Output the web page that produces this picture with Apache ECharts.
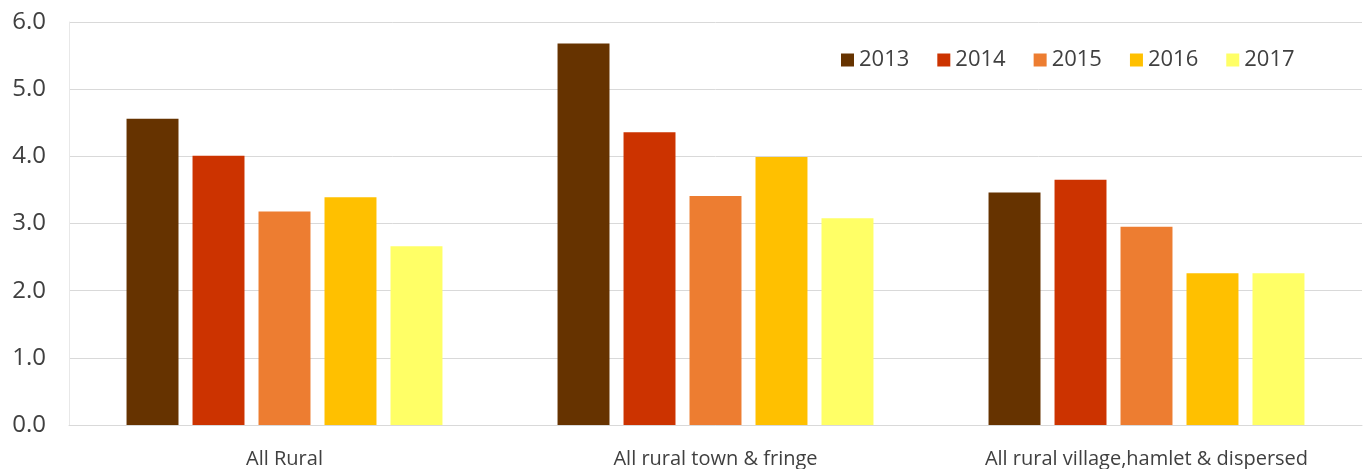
<!DOCTYPE html>
<html>
<head>
<meta charset="utf-8">
<script src="https://cdn.jsdelivr.net/npm/echarts@6/dist/echarts.min.js"></script>
<style>
html,body{margin:0;padding:0;background:#fff;}
#chart{width:1370px;height:469px;}
</style>
</head>
<body>
<div id="chart"></div>
<script>
var categories = ['All Rural', 'All rural town & fringe', 'All rural village,hamlet & dispersed'];
var years = ['2013', '2014', '2015', '2016', '2017'];
var values2013 = [4.56, 5.68, 3.46];
var values2014 = [4.01, 4.36, 3.65];
var values2015 = [3.18, 3.41, 2.95];
var values2016 = [3.39, 3.99, 2.26];
var values2017 = [2.66, 3.08, 2.26];
var yTicks = [0, 1, 2, 3, 4, 5, 6];
var colors = ['#663300', '#CC3300', '#ED7D31', '#FFC000', '#FFFF66'];

var seriesValues = [values2013, values2014, values2015, values2016, values2017];
var font = '"Open Sans", "Noto Sans", sans-serif';
var chart = echarts.init(document.getElementById('chart'));
chart.setOption({
  animation: false,
  color: colors,
  grid: { left: 69, right: 8, top: 22, bottom: 43, containLabel: false },
  legend: {
    data: years,
    left: 836,
    top: 44,
    icon: 'rect',
    itemWidth: 13,
    itemHeight: 13,
    itemGap: 28,
    textStyle: { color: '#404040', fontSize: 22, fontFamily: font }
  },
  xAxis: {
    type: 'category',
    data: categories,
    axisLine: { show: true, lineStyle: { color: '#d9d9d9', width: 1 } },
    axisTick: { show: false },
    axisLabel: { color: '#404040', fontSize: 20, fontFamily: font, margin: 24, interval: 0 }
  },
  yAxis: {
    type: 'value',
    min: yTicks[0],
    max: yTicks[yTicks.length - 1],
    interval: 1,
    axisLine: { show: true, lineStyle: { color: '#e8e8e8', width: 1 } },
    axisTick: { show: false },
    splitLine: { lineStyle: { color: '#d9d9d9', width: 1 } },
    axisLabel: {
      color: '#404040', fontSize: 24, fontFamily: font, margin: 23,
      formatter: function (v) { return v.toFixed(1); }
    }
  },
  series: years.map(function (y, i) {
    return {
      name: y,
      type: 'bar',
      data: seriesValues[i],
      barGap: '27%',
      barCategoryGap: '26.7%',
      itemStyle: { color: colors[i] }
    };
  })
});
</script>
</body>
</html>
